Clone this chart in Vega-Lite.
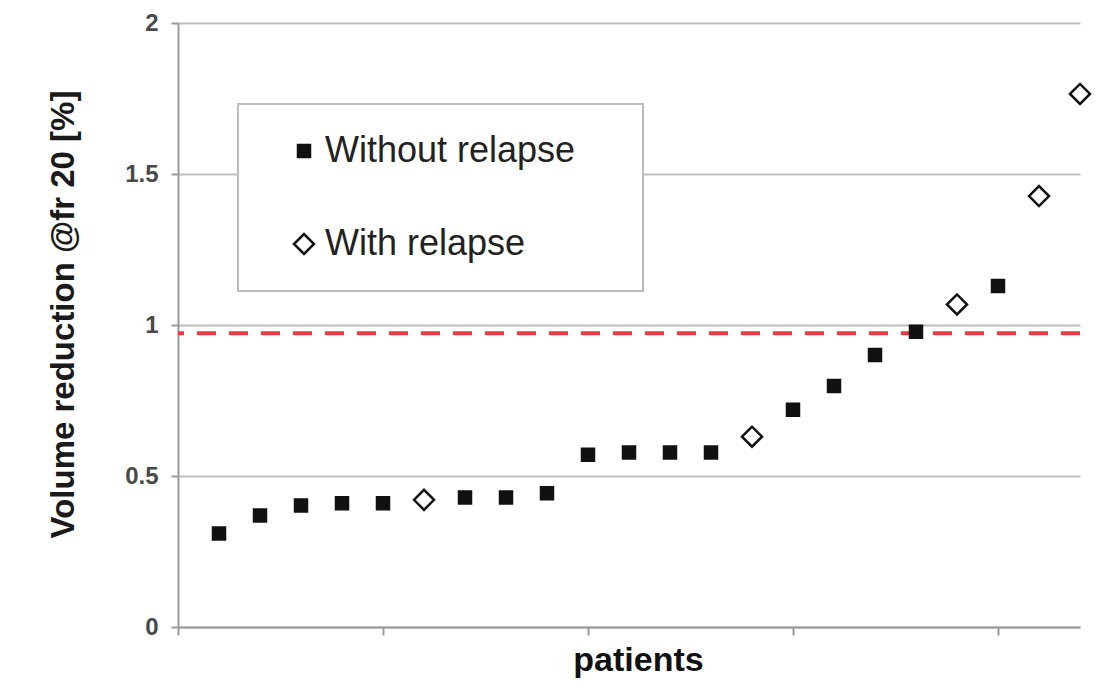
{
  "$schema": "https://vega.github.io/schema/vega-lite/v6.json",
  "width": 902,
  "height": 604,
  "autosize": {"type": "none"},
  "padding": {"left": 178, "top": 23, "right": 35, "bottom": 70},
  "background": "white",
  "config": {
    "view": {"stroke": null},
    "font": "Liberation Sans",
    "legend": {
      "strokeColor": "#bdbdbd",
      "strokeWidth": 2,
      "fillColor": "white",
      "padding": 29,
      "symbolOffset": 19,
      "labelOffset": 3,
      "rowPadding": 57,
      "labelLimit": 500,
      "labelFont": "Liberation Sans",
      "labelFontSize": 36,
      "labelColor": "#222222",
      "symbolStrokeWidth": 2.5,
      "symbolOpacity": 1,
      "titleOrient": "right",
      "titlePadding": 39,
      "titleFontSize": 10
    }
  },
  "datasets": {
    "patients": [
      {"patient": 1, "reduction": 0.31, "group": "Without relapse"},
      {"patient": 2, "reduction": 0.369, "group": "Without relapse"},
      {"patient": 3, "reduction": 0.402, "group": "Without relapse"},
      {"patient": 4, "reduction": 0.41, "group": "Without relapse"},
      {"patient": 5, "reduction": 0.41, "group": "Without relapse"},
      {"patient": 6, "reduction": 0.421, "group": "With relapse"},
      {"patient": 7, "reduction": 0.429, "group": "Without relapse"},
      {"patient": 8, "reduction": 0.429, "group": "Without relapse"},
      {"patient": 9, "reduction": 0.443, "group": "Without relapse"},
      {"patient": 10, "reduction": 0.57, "group": "Without relapse"},
      {"patient": 11, "reduction": 0.578, "group": "Without relapse"},
      {"patient": 12, "reduction": 0.578, "group": "Without relapse"},
      {"patient": 13, "reduction": 0.578, "group": "Without relapse"},
      {"patient": 14, "reduction": 0.63, "group": "With relapse"},
      {"patient": 15, "reduction": 0.719, "group": "Without relapse"},
      {"patient": 16, "reduction": 0.798, "group": "Without relapse"},
      {"patient": 17, "reduction": 0.901, "group": "Without relapse"},
      {"patient": 18, "reduction": 0.978, "group": "Without relapse"},
      {"patient": 19, "reduction": 1.068, "group": "With relapse"},
      {"patient": 20, "reduction": 1.129, "group": "Without relapse"},
      {"patient": 21, "reduction": 1.427, "group": "With relapse"},
      {"patient": 22, "reduction": 1.765, "group": "With relapse"}
    ],
    "threshold": [{"level": 0.973}]
  },
  "layer": [
    {
      "data": {"name": "threshold"},
      "mark": {"type": "rule", "color": "#e53c40", "strokeWidth": 4, "strokeDash": [19, 13]},
      "encoding": {
        "y": {"field": "level", "type": "quantitative", "title": "Volume reduction @fr 20 [%]"}
      }
    },
    {
      "data": {"name": "patients"},
      "mark": {"type": "point", "filled": true, "opacity": 1, "strokeWidth": 2.5},
      "encoding": {
        "x": {
          "field": "patient",
          "type": "quantitative",
          "scale": {"domain": [0, 22], "nice": false, "zero": true},
          "axis": {
            "values": [0, 5, 10, 15, 20],
            "labels": false,
            "grid": false,
            "domainColor": "#9a9a9a",
            "domainWidth": 2,
            "tickColor": "#9a9a9a",
            "tickWidth": 2,
            "tickSize": 8,
            "title": "patients",
            "titleFont": "Liberation Sans",
            "titleFontSize": 34,
            "titleFontWeight": "bold",
            "titleColor": "#111111",
            "titleX": 460,
            "titleY": 33,
            "titleAlign": "center",
            "titleBaseline": "middle"
          }
        },
        "y": {
          "field": "reduction",
          "type": "quantitative",
          "title": "Volume reduction @fr 20 [%]",
          "scale": {"domain": [0, 2], "nice": false},
          "axis": {
            "values": [0, 0.5, 1, 1.5, 2],
            "format": "~g",
            "grid": true,
            "gridColor": "#bdbdbd",
            "gridWidth": 2,
            "domainColor": "#9a9a9a",
            "domainWidth": 2,
            "tickColor": "#9a9a9a",
            "tickWidth": 2,
            "tickSize": 7,
            "labelPadding": 13,
            "labelFont": "Liberation Sans",
            "labelFontSize": 24,
            "labelFontWeight": "bold",
            "labelColor": "#4a4a4a",
            "titleFont": "Liberation Sans",
            "titleFontSize": 33,
            "titleFontWeight": "bold",
            "titleColor": "#1a1a1a",
            "titleAngle": -90,
            "titleX": -115,
            "titleY": 291,
            "titleAlign": "center",
            "titleBaseline": "middle"
          }
        },
        "stroke": {
          "field": "group",
          "type": "nominal",
          "scale": {"domain": ["Without relapse", "With relapse"], "range": ["#111111", "#111111"]},
          "legend": {"title": "\u00a0", "orient": "none", "legendX": 60, "legendY": 81}
        },
        "shape": {
          "field": "group",
          "type": "nominal",
          "scale": {"domain": ["Without relapse", "With relapse"], "range": ["square", "diamond"]},
          "legend": {"title": "\u00a0", "orient": "none", "legendX": 60, "legendY": 81}
        },
        "fill": {
          "field": "group",
          "type": "nominal",
          "scale": {"domain": ["Without relapse", "With relapse"], "range": ["#111111", "#ffffff"]},
          "legend": {"title": "\u00a0", "orient": "none", "legendX": 60, "legendY": 81}
        },
        "size": {
          "field": "group",
          "type": "nominal",
          "scale": {"domain": ["Without relapse", "With relapse"], "range": [144, 400]},
          "legend": {"title": "\u00a0", "orient": "none", "legendX": 60, "legendY": 81}
        }
      }
    }
  ]
}
